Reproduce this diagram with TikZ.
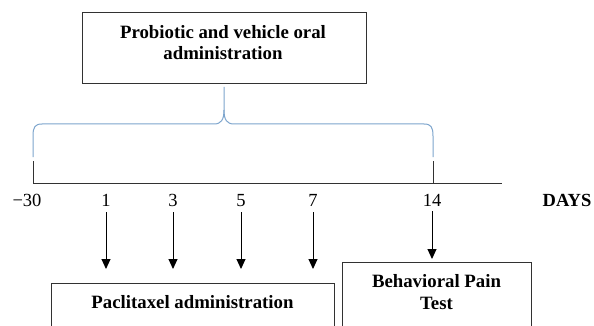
\documentclass[tikz,border=0pt]{standalone}
\usepackage{fontspec}
\setmainfont{Liberation Serif}
\usetikzlibrary{arrows.meta}
\definecolor{bracecol}{RGB}{125,165,205}
\definecolor{linecol}{RGB}{50,50,50}
\begin{document}
\begin{tikzpicture}[x=1pt,y=-1pt,
  boxstyle/.style={draw=linecol, line width=1pt, inner sep=0pt, anchor=north west},
  title/.style={font=\fontsize{18.8}{21}\selectfont\bfseries, align=center, inner sep=0pt},
  daylabel/.style={font=\fontsize{18.5}{21}\selectfont, inner sep=0pt, anchor=base},
  arr/.style={-{Triangle[length=10pt,width=9pt]}, line width=1pt, black},
  axis/.style={draw=linecol, line width=1pt}]
\clip (0,0) rectangle (594,326);
\fill[white] (0,0) rectangle (594,326);
% top box
\node[boxstyle, minimum width=284pt, minimum height=71pt] (probox) at (82,12) {};
\node[title, anchor=north] (protext) at (223,25.5) {Probiotic and vehicle oral\\administration};
% brace
\draw[bracecol, line width=1pt] (33,157) -- (33,136) .. controls (33,127) and (35,124) .. (42,124)
  -- (214,124) .. controls (221,124) and (224,120) .. (224,110) -- (224,87);
\draw[bracecol, line width=1pt] (224,110) .. controls (224,120) and (227,124) .. (234,124)
  -- (424,124) .. controls (431,124) and (433,127) .. (433,136) -- (433,157);
% axis
\coordinate (t0) at (33,183);
\coordinate (t0top) at (33,161);
\coordinate (t14) at (433,183);
\coordinate (t14top) at (433,161);
\coordinate (tend) at (502,183);
\draw[axis] (t0top) -- (t0) -- (tend);
\draw[axis] (t14top) -- (t14);
% labels
\node[daylabel] (lm30) at (27,206) {−30};
\node[daylabel] (l1) at (106,206) {1};
\node[daylabel] (l3) at (173,206) {3};
\node[daylabel] (l5) at (241,206) {5};
\node[daylabel] (l7) at (313,206) {7};
\node[daylabel] (l14) at (432,206) {14};
\node[daylabel, font=\fontsize{18.5}{21}\selectfont\bfseries] (days) at (567,206) {DAYS};
% bottom boxes
\node[boxstyle, minimum width=283pt, minimum height=70pt] (pacbox) at (51,283) {};
\node[title, anchor=base] (pactext) at (192.5,308) {Paclitaxel administration};
\node[boxstyle, minimum width=189pt, minimum height=90pt] (behbox) at (342,262) {};
\node[title, anchor=north, font=\fontsize{18.8}{22}\selectfont\bfseries] (behtext) at (436.5,274.5) {Behavioral Pain\\Test};
% arrows
\foreach \l in {l1,l3,l5,l7}{
  \draw[arr, shorten >=14pt] ([yshift=-6pt]\l.south) -- (\l.south |- pacbox.north);
}
\draw[arr, shorten >=3pt] ([yshift=-5pt]l14.south) -- (l14.south |- behbox.north);
\end{tikzpicture}
\end{document}
